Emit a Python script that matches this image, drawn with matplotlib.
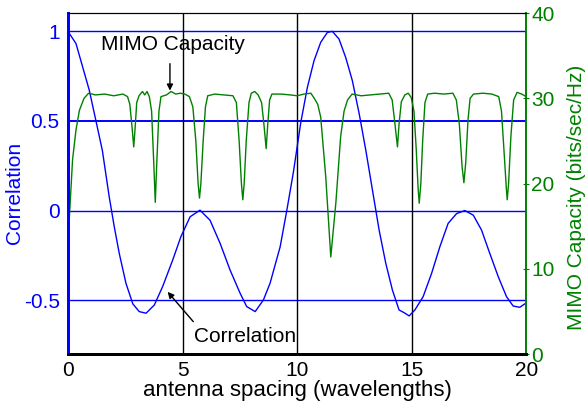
import matplotlib
matplotlib.use("Agg")
import matplotlib.pyplot as plt

plt.rcParams['font.family'] = ['Liberation Sans', 'DejaVu Sans']

# correlation curve (left axis)
corr_x = [0, 0.35, 0.64, 0.93, 1.22, 1.5, 1.8, 2.02, 2.24, 2.53, 2.83, 3.11, 3.41,
          3.77, 4.13, 4.57, 4.93, 5.33, 5.76, 6.2, 6.64, 7.07, 7.51, 7.8, 8.17,
          8.53, 8.82, 9.26, 9.55, 9.84, 10.16, 10.45, 10.74, 11.03, 11.32, 11.54,
          11.83, 12.12, 12.41, 12.71, 13.0, 13.29, 13.58, 13.87, 14.16, 14.45,
          14.67, 14.89, 15.14, 15.5, 15.87, 16.23, 16.59, 16.96, 17.32, 17.69,
          18.05, 18.41, 18.78, 19.14, 19.43, 19.72, 19.97]
corr_y = [0.998, 0.93, 0.80, 0.67, 0.50, 0.335, 0.076, -0.09, -0.24, -0.405, -0.52,
          -0.563, -0.572, -0.526, -0.424, -0.276, -0.145, -0.035, 0.002, -0.054,
          -0.183, -0.33, -0.46, -0.535, -0.563, -0.498, -0.405, -0.202, 0.0, 0.215,
          0.49, 0.687, 0.835, 0.937, 0.992, 0.998, 0.955, 0.853, 0.724, 0.539,
          0.335, 0.113, -0.109, -0.294, -0.443, -0.554, -0.569, -0.587, -0.554,
          -0.48, -0.35, -0.202, -0.072, -0.017, 0.0, -0.026, -0.109, -0.239,
          -0.369, -0.48, -0.532, -0.539, -0.517]

# MIMO capacity curve (right axis)
cap_x = [0.0, 0.06, 0.2, 0.35, 0.5, 0.7, 0.9, 1.2, 1.6, 2.0, 2.4, 2.6, 2.7, 2.8,
         2.87, 2.93, 3.0, 3.1, 3.25, 3.35, 3.45, 3.55, 3.65, 3.75, 3.81, 3.87,
         3.97, 4.06, 4.3, 4.5, 4.7, 4.9, 5.1, 5.3, 5.45, 5.58, 5.68, 5.74, 5.8,
         5.9, 6.0, 6.1, 6.4, 6.8, 7.2, 7.35, 7.47, 7.57, 7.63, 7.69, 7.78, 7.9,
         8.0, 8.15, 8.3, 8.45, 8.55, 8.65, 8.72, 8.8, 8.9, 9.3, 9.7, 10.0, 10.3,
         10.6, 10.75, 10.9, 11.03, 11.25, 11.47, 11.69, 11.9, 12.05, 12.2, 12.4,
         12.8, 13.2, 13.6, 14.0, 14.15, 14.27, 14.38, 14.45, 14.55, 14.7, 14.85,
         14.98, 15.1, 15.2, 15.28, 15.33, 15.4, 15.48, 15.58, 15.7, 16.0, 16.4,
         16.8, 16.95, 17.08, 17.2, 17.28, 17.36, 17.46, 17.55, 17.7, 18.1, 18.5,
         18.8, 18.92, 19.05, 19.13, 19.17, 19.23, 19.33, 19.45, 19.6, 19.8, 20.0]
cap_y = [10.0, 16.0, 22.8, 26.3, 28.6, 30.0, 30.6, 30.4, 30.5, 30.3, 30.5, 30.2,
         29.3, 26.5, 24.3, 26.5, 29.5, 30.3, 30.8, 30.4, 30.8, 30.2, 28.5, 22.0,
         17.8, 22.0, 28.5, 30.2, 30.4, 30.8, 30.5, 30.6, 30.5, 30.2, 29.0, 25.0,
         20.0, 18.3, 20.0, 25.0, 29.0, 30.3, 30.5, 30.4, 30.3, 29.5, 25.0, 20.0,
         18.1, 20.0, 25.0, 29.5, 30.6, 30.8, 30.4, 29.5, 27.0, 24.1, 27.0, 29.8,
         30.5, 30.5, 30.4, 30.3, 30.5, 30.6, 30.0, 29.3, 27.8, 20.8, 11.4, 17.7,
         25.5, 28.5, 29.8, 30.5, 30.3, 30.4, 30.5, 30.6, 29.8, 27.0, 24.3, 27.0,
         29.6, 30.4, 30.6, 30.1, 28.5, 24.0, 19.5, 17.7, 20.0, 25.0, 29.5, 30.5,
         30.6, 30.5, 30.6, 29.8, 27.0, 22.0, 20.1, 22.5, 27.5, 30.0, 30.5, 30.6,
         30.5, 30.2, 28.5, 23.0, 19.5, 18.1, 20.0, 25.5, 29.8, 30.7, 30.5, 30.2]

x_ticks = [0, 5, 10, 15, 20]
corr_ticks = [-0.5, 0, 0.5, 1]
corr_labels = ['-0.5', '0', '0.5', '1']
cap_ticks = [0, 10, 20, 30, 40]

blue = '#0000ff'
green = '#008000'

fig = plt.figure(figsize=(5.86, 4.08), dpi=100)
ax = fig.add_axes([0.116, 0.132, 0.782, 0.836])
ax2 = ax.twinx()

# grid lines
for v in corr_ticks:
    ax.axhline(v, color=blue, lw=1.4 if v == 0.5 else 1.0, zorder=1)
for v in x_ticks[1:-1]:
    ax.axvline(v, color='black', lw=1.0, zorder=1)

ax.plot(corr_x, corr_y, color=blue, lw=1.0, zorder=2)
ax2.plot(cap_x, cap_y, color=green, lw=1.0)

ax.set_xlim(0, 20)
ax.set_ylim(-0.8, 1.1)
ax2.set_ylim(0, 40)

ax.set_xticks(x_ticks)
ax.set_yticks(corr_ticks)
ax.set_yticklabels(corr_labels)
ax2.set_yticks(cap_ticks)

ax.tick_params(axis='x', direction='in', length=0, labelsize=15, pad=5)
ax.tick_params(axis='y', direction='in', length=0, labelsize=15, colors=blue, pad=6)
ax2.tick_params(axis='y', direction='inout', length=5, labelsize=15, colors=green, pad=1)

ax.set_xlabel('antenna spacing (wavelengths)', fontsize=16, labelpad=0)
ax.set_ylabel('Correlation', fontsize=15, color=blue)
ax2.set_ylabel('MIMO Capacity (bits/sec/Hz)', fontsize=15, color=green)
ax.yaxis.set_label_coords(-0.096, 0.474)
ax2.yaxis.set_label_coords(1.0895, 0.46)

for a in (ax, ax2):
    a.spines['top'].set_color('black')
    a.spines['bottom'].set_color('black')
    a.spines['bottom'].set_linewidth(2.0)
    a.spines['left'].set_color(blue)
    a.spines['left'].set_linewidth(2.0)
    a.spines['right'].set_color(green)
    a.spines['right'].set_linewidth(1.2)

arrow = dict(arrowstyle='-|>', color='black', lw=1.0, mutation_scale=9,
             shrinkA=0, shrinkB=0)
ax.text(4.6, 0.924, 'MIMO Capacity', fontsize=15, ha='center', va='center')
ax.annotate('', xy=(4.45, 0.668), xytext=(4.45, 0.818), arrowprops=arrow)
ax.text(7.75, -0.70, 'Correlation', fontsize=15, ha='center', va='center')
ax.annotate('', xy=(4.35, -0.453), xytext=(5.47, -0.619), arrowprops=arrow)

fig.savefig('out.png', dpi=100)
